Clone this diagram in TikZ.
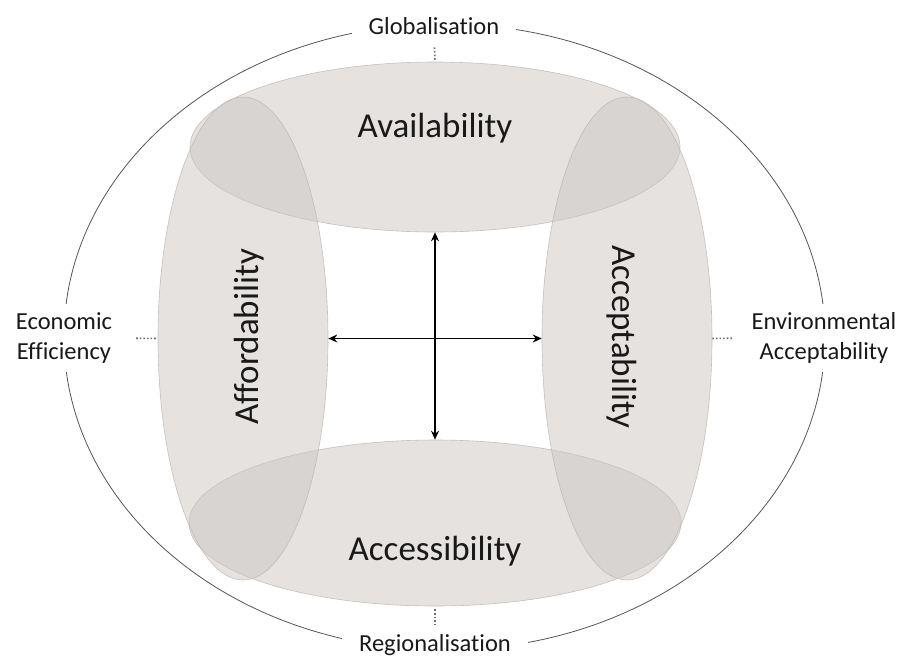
\documentclass[tikz,border=0pt]{standalone}
\usepackage{fontspec}
\setmainfont{Carlito}[RawFeature={-liga;-clig;-calt;-dlig}]
\usetikzlibrary{shapes.geometric,arrows.meta}
\definecolor{ringfill}{RGB}{205,199,195}
\definecolor{ringline}{RGB}{185,181,177}
\definecolor{outerline}{RGB}{85,85,85}
\definecolor{dotcol}{RGB}{110,110,110}
\definecolor{txt}{RGB}{25,25,25}
\begin{document}
\begin{tikzpicture}[x=1pt,y=-1pt,
  ring/.style={ellipse, fill=ringfill, fill opacity=0.52, draw=ringline, draw opacity=0.8, line width=0.6pt, inner sep=0pt},
  bigtext/.style={text=txt, font=\fontsize{35}{40}\selectfont, inner sep=0pt},
  lab/.style={text=txt, fill=white, font=\fontsize{24.5}{29.4}\selectfont, align=center},
  dotline/.style={draw=dotcol, line width=1.6pt, dash pattern=on 1.6pt off 2pt},
  axis/.style={draw=black, line width=1.3pt, {Stealth[length=9pt,width=8pt,inset=3pt]}-{Stealth[length=9pt,width=8pt,inset=3pt]}}
]
\useasboundingbox (0,0) rectangle (902,657);
% outer ring
\node[ellipse, draw=outerline, line width=0.8pt, minimum width=761pt, minimum height=626pt, inner sep=0pt] (outer) at (444.5,337) {};
% four ellipses
\node[ring, minimum width=490pt, minimum height=170pt] (avail) at (435,147) {};
\node[ring, minimum width=492pt, minimum height=166pt] (access) at (435,523) {};
\node[ring, minimum width=170pt, minimum height=483pt] (afford) at (243,338.5) {};
\node[ring, minimum width=170pt, minimum height=483pt] (accept) at (627,338.5) {};
% texts
\node[bigtext, anchor=base] (availT) at (435,137) {Availability};
\node[bigtext, anchor=base] (accessT) at (435,560) {Accessibility};
\node[bigtext, anchor=base, rotate=90] (affordT) at (258,337) {Affordability};
\node[bigtext, anchor=base, rotate=-90] (acceptT) at (612,337) {Acceptability};
% labels
\node[lab, anchor=base, inner xsep=17pt, inner ysep=3pt] (glob) at (434,34) {Globalisation};
\node[lab, anchor=base, inner xsep=17pt, inner ysep=3pt] (regio) at (435,651) {Regionalisation};
\node[lab, inner xsep=4pt, inner ysep=9pt] (econ) at (64,338) {Economic\\Efficiency};
\node[lab, inner xsep=4pt, inner ysep=9pt] (envi) at (824,338) {Environmental\\Acceptability};
% dotted connectors
\draw[dotline, shorten <=10pt] (glob.south) -- (avail.north);
\draw[dotline, shorten <=3pt, shorten >=7pt] (access.south) -- (regio.north);
\draw[dotline, shorten <=20pt] (econ.east) -- (afford.west);
\draw[dotline, shorten >=14pt] (accept.east) -- (envi.west);
% axes
\draw[axis] (avail.south) -- (access.north);
\draw[axis] (afford.east) -- (accept.west);
\end{tikzpicture}
\end{document}
